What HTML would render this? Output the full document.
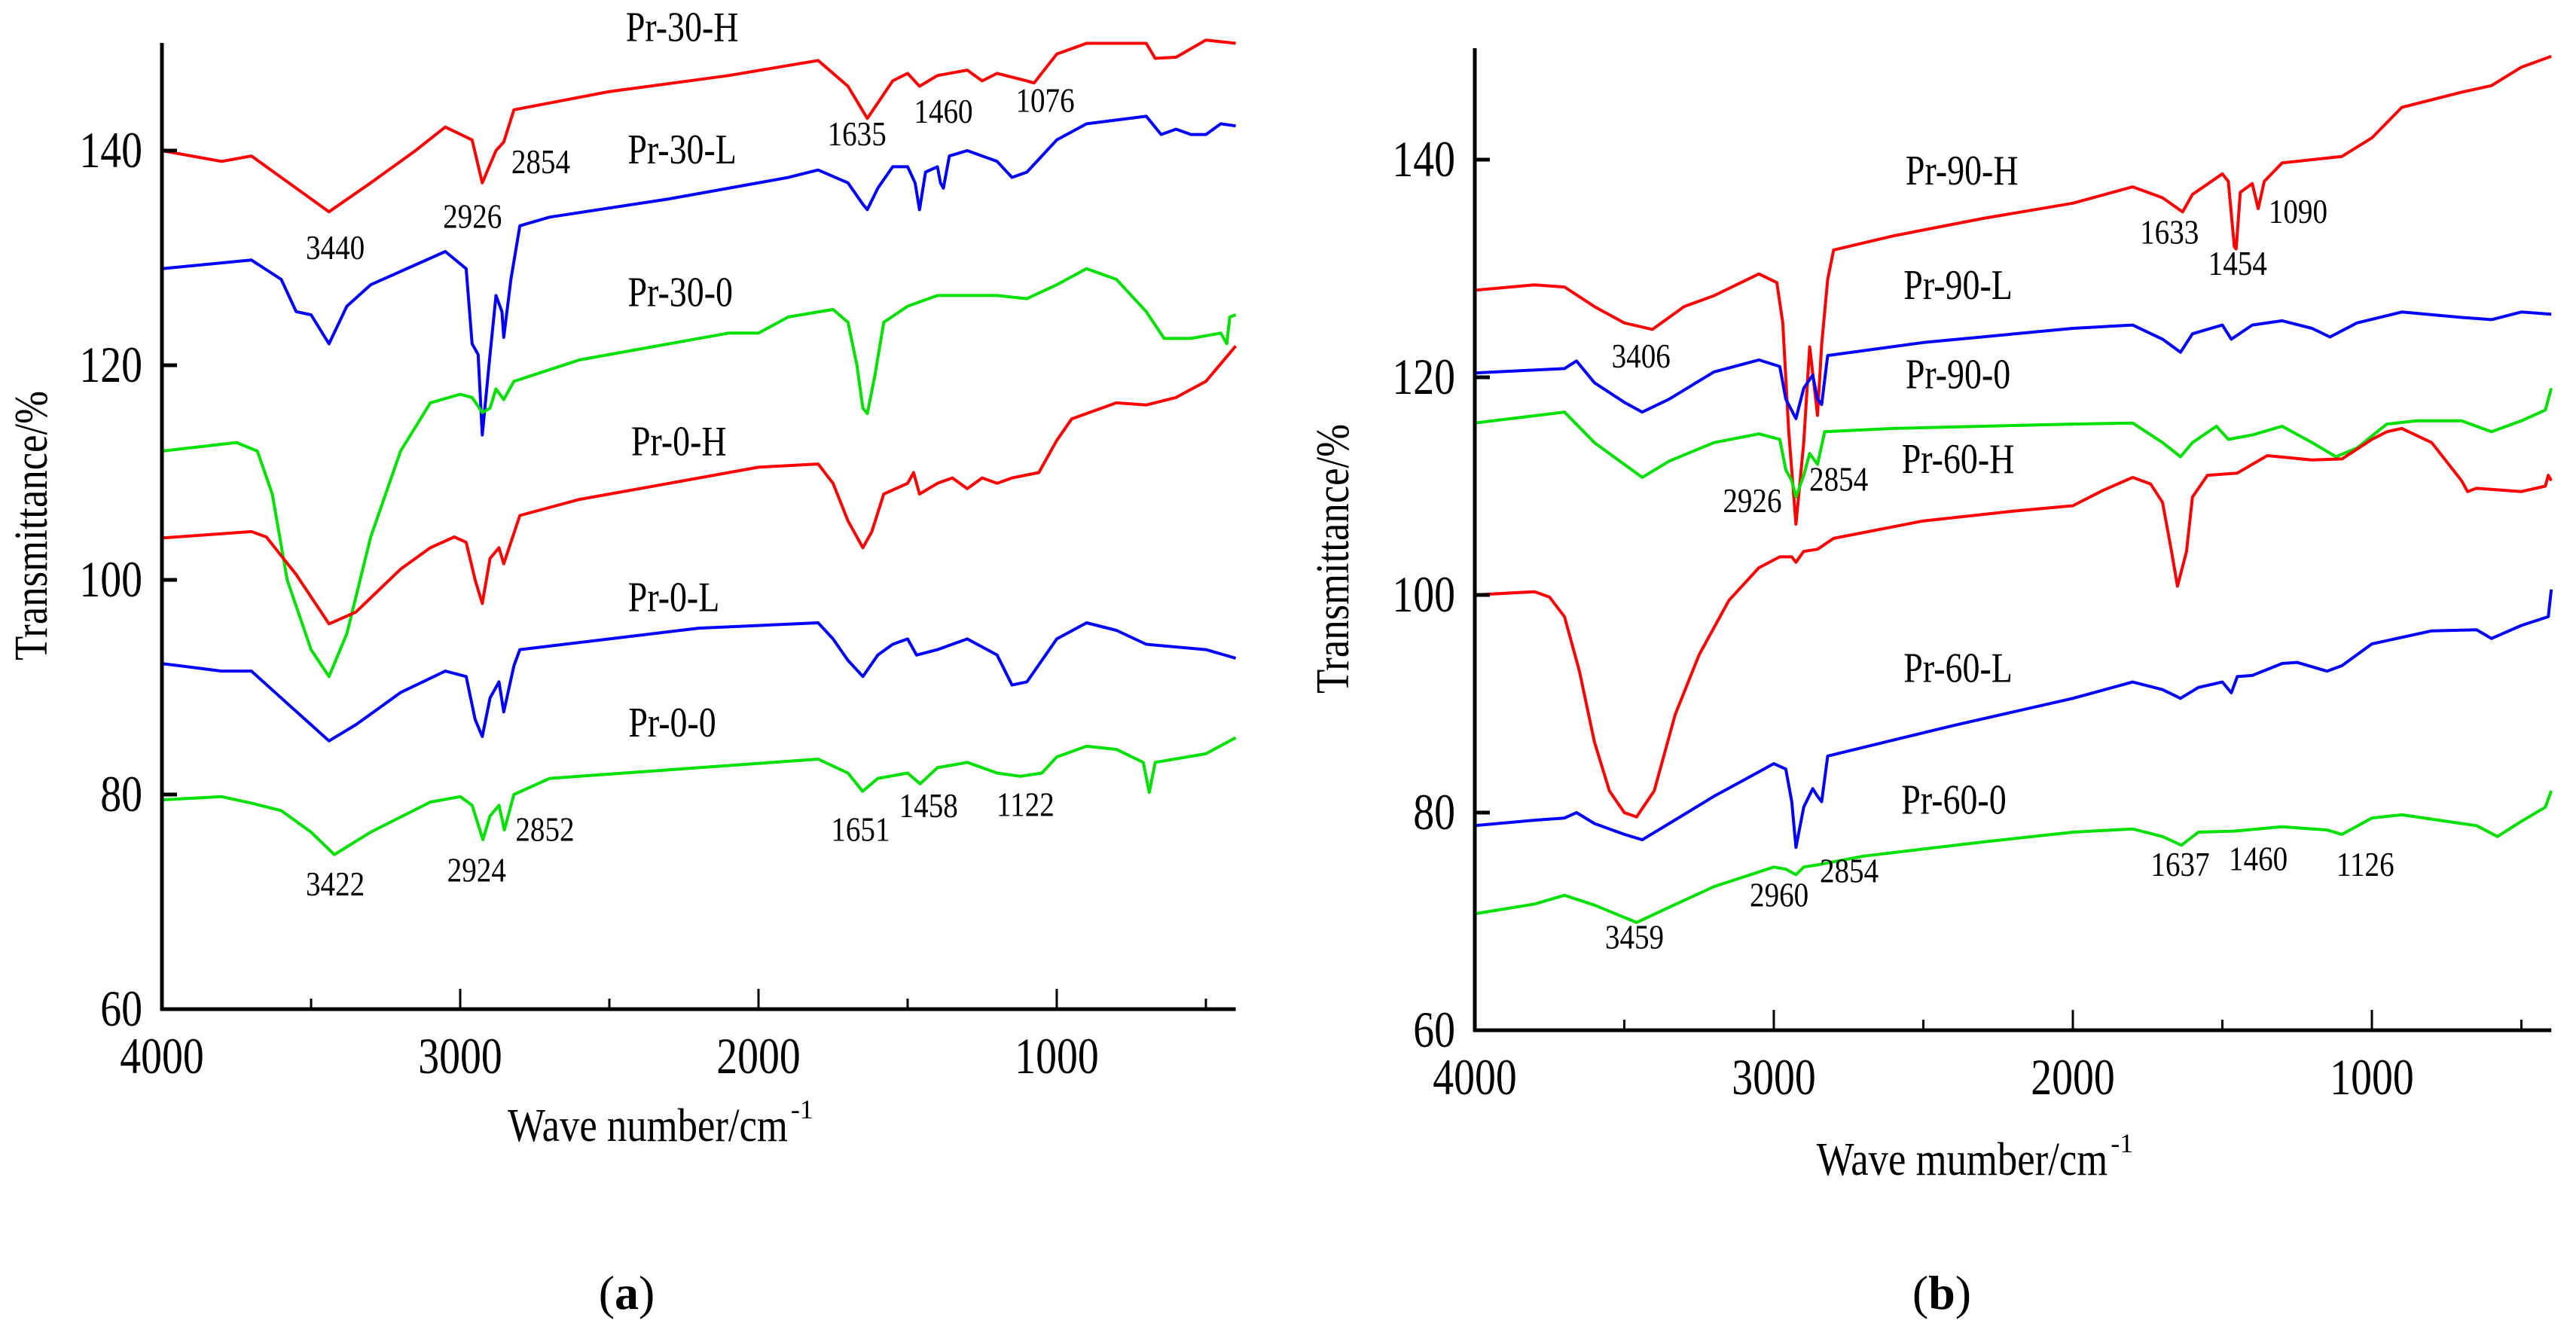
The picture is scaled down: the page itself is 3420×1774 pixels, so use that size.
<!DOCTYPE html>
<html><head><meta charset="utf-8">
<style>
html,body{margin:0;padding:0;background:#fff;}
svg{display:block;font-family:"Liberation Serif",serif;}
</style></head>
<body>
<svg id="fig" width="3420" height="1774" viewBox="0 0 3420 1774" xmlns="http://www.w3.org/2000/svg">
<rect x="0" y="0" width="3420" height="1774" fill="#fff"/>
<g id="panelA"></g>
<g id="panelB"></g>
</svg>
<script>
// ---------- Panel (a) data: [wavenumber, transmittance] ----------
const aPr30H_wn=[4000,3800,3700,3600,3440,3300,3150,3050,2960,2926,2880,2854,2820,2500,2100,1800,1700,1635,1550,1500,1460,1400,1300,1250,1200,1100,1076,1000,900,700,670,600,500,400];
const aPr30H_t=[140,139,139.5,137.5,134.3,137,140,142.2,141,137,140,140.8,143.8,145.5,147,148.4,146,143,146.5,147.2,146,147,147.5,146.5,147.2,146.5,146.3,149,150,150,148.6,148.7,150.3,150];
const aPr30L_wn=[4000,3700,3600,3550,3500,3440,3380,3300,3050,2980,2960,2940,2926,2900,2880,2860,2854,2830,2800,2700,2300,2100,1900,1800,1700,1650,1635,1600,1550,1500,1475,1460,1440,1400,1390,1380,1360,1300,1200,1150,1100,1000,900,700,650,600,550,500,450,400];
const aPr30L_t=[129,129.8,128,125,124.7,122,125.5,127.5,130.6,129,122,121,113.5,121,126.5,125,122.6,128,133,133.8,135.5,136.5,137.5,138.2,137,135,134.5,136.5,138.5,138.5,137,134.5,138,138.5,137,136.5,139.5,140,139,137.5,138,141,142.5,143.2,141.5,142,141.5,141.5,142.5,142.3];
const aPr300_wn=[4000,3750,3680,3630,3580,3500,3440,3380,3300,3200,3100,3000,2960,2926,2900,2880,2854,2820,2600,2300,2100,2000,1900,1750,1700,1670,1650,1635,1610,1580,1500,1400,1200,1100,1000,900,800,700,640,550,450,430,420,400];
const aPr300_t=[112,112.8,112,108,100,93.5,91,95,104,112,116.5,117.3,117,115.6,116,117.8,116.8,118.5,120.5,122,123,123,124.5,125.2,124,120,116,115.5,119,124,125.5,126.5,126.5,126.2,127.5,129,128,125,122.5,122.5,123,122,124.5,124.7];
const aPr0H_wn=[4000,3700,3650,3550,3440,3350,3200,3100,3020,2980,2950,2926,2900,2870,2854,2830,2800,2600,2300,2000,1800,1750,1700,1650,1620,1580,1500,1480,1460,1400,1350,1300,1250,1200,1150,1060,1000,950,800,700,600,500,400];
const aPr0H_t=[103.9,104.5,104,100.5,95.9,97,101,103,104,103.5,100,97.8,102,103,101.5,103.5,106,107.5,109,110.5,110.8,109,105.5,103,104.5,108,109,110,108,109,109.5,108.5,109.5,109,109.5,110,113,115,116.5,116.3,117,118.5,121.8];
const aPr0L_wn=[4000,3800,3700,3600,3500,3440,3350,3200,3050,2980,2950,2926,2900,2870,2854,2820,2800,2500,2200,1800,1750,1700,1650,1600,1550,1500,1470,1400,1300,1200,1150,1100,1000,900,800,700,500,400];
const aPr0L_t=[92.2,91.5,91.5,89,86.5,85,86.5,89.5,91.5,91,87,85.4,89,90.5,87.7,92,93.5,94.5,95.5,96,94.5,92.5,91,93,94,94.5,93,93.5,94.5,93,90.2,90.5,94.5,96,95.3,94,93.5,92.7];
const aPr00_wn=[4000,3800,3700,3600,3500,3422,3300,3100,3000,2960,2924,2900,2870,2852,2820,2700,2300,1800,1700,1651,1600,1500,1458,1400,1300,1200,1122,1050,1000,900,800,710,690,670,500,400];
const aPr00_t=[79.5,79.8,79.2,78.5,76.5,74.4,76.5,79.3,79.8,79,75.8,78,79,76.7,80,81.5,82.3,83.3,82,80.3,81.5,82,81,82.5,83,82,81.7,82,83.5,84.5,84.2,83,80.2,83,83.8,85.3];
const aLabelText=["Pr-30-H","Pr-30-L","Pr-30-0","Pr-0-H","Pr-0-L","Pr-0-0"];
const aLabelWn=[2256,2256,2262,2267,2284,2289];
const aLabelT=[150.2,138.8,125.5,111.6,97.1,85.4];
const aPeakText=["3440","2926","2854","1635","1460","1076","3422","2924","2852","1651","1458","1122"];
const aPeakWn=[3419,2959,2730,1670,1380,1039,3419,2945,2716,1658,1430,1105];
const aPeakT=[129.9,132.8,137.9,140.5,142.6,143.6,70.6,71.9,75.7,75.7,77.9,78.0];

// ---------- Panel (b) data ----------
const bPr90H_wn=[4000,3800,3700,3600,3500,3406,3300,3200,3050,2990,2970,2950,2926,2900,2880,2860,2854,2840,2820,2800,2600,2300,2000,1800,1700,1633,1600,1500,1480,1460,1454,1440,1400,1380,1360,1300,1200,1100,1000,900,800,700,600,500,400];
const bPr90H_t=[128,128.5,128.3,126.5,125,124.4,126.5,127.5,129.5,128.7,125,115,106.5,114,122.8,118,116.5,123,129,131.7,133,134.6,136,137.5,136.5,135.2,136.8,138.7,138,132,131.8,137,137.8,135.5,138,139.7,140,140.3,142,144.8,145.5,146.2,146.8,148.5,149.5];
const bPr90L_wn=[4000,3700,3660,3600,3500,3440,3350,3200,3050,2980,2960,2926,2900,2870,2854,2840,2820,2500,2000,1800,1700,1640,1600,1500,1470,1400,1300,1200,1140,1050,900,700,600,500,400];
const bPr90L_t=[120.4,120.8,121.5,119.5,117.7,116.8,118,120.5,121.6,121,118,116.2,119,120.2,118,117.5,122,123.2,124.5,124.8,123.5,122.3,124,124.8,123.5,124.8,125.2,124.5,123.7,125,126,125.5,125.3,126,125.8];
const bPr900_wn=[4000,3700,3600,3500,3440,3350,3200,3050,2980,2960,2940,2926,2900,2880,2854,2830,2600,2000,1800,1700,1640,1600,1520,1480,1400,1300,1200,1120,1050,950,850,700,600,500,420,400];
const bPr900_t=[115.8,116.8,114,112,110.8,112.3,114,114.8,114.3,111.5,110.5,109,111,113,112,115,115.3,115.7,115.8,114,112.7,114,115.5,114.3,114.7,115.5,114,112.7,113.5,115.7,116,116,115,116,117,119];
const bPr60H_wn=[4000,3800,3750,3700,3650,3600,3550,3500,3459,3400,3330,3250,3150,3050,2980,2940,2926,2900,2854,2800,2500,2200,2000,1900,1800,1740,1700,1670,1650,1620,1600,1550,1450,1350,1200,1100,1000,950,900,800,700,680,650,500,420,410,400];
const bPr60H_t=[100,100.3,99.8,98,93,86.5,82,80,79.6,82,89,94.5,99.5,102.5,103.5,103.5,103,104,104.2,105.2,106.8,107.7,108.2,109.6,110.8,110.2,108.5,104,100.8,104,109,111,111.2,112.8,112.4,112.5,114.3,115,115.3,114,110.5,109.5,109.8,109.5,110,111,110.5];
const bPr60L_wn=[4000,3800,3700,3660,3600,3500,3440,3350,3200,3100,3000,2960,2940,2926,2900,2870,2854,2840,2820,2700,2400,2000,1800,1700,1640,1580,1500,1470,1450,1400,1300,1250,1150,1100,1000,800,650,600,500,410,400];
const bPr60L_t=[78.8,79.3,79.5,80,79,78,77.5,79,81.5,83,84.5,84,81,76.8,80.5,82.2,81.5,81,85.2,86,88,90.5,92,91.3,90.5,91.5,92,91,92.5,92.6,93.7,93.8,93,93.5,95.5,96.7,96.8,96,97.2,98,100.5];
const bPr600_wn=[4000,3800,3700,3600,3459,3350,3200,3000,2960,2926,2900,2854,2700,2300,2000,1800,1700,1637,1580,1460,1300,1150,1100,1000,900,700,650,580,500,420,400];
const bPr600_t=[70.7,71.6,72.4,71.5,69.9,71.3,73.2,75,74.8,74.3,75,75.2,76,77.3,78.2,78.5,77.8,77,78.2,78.3,78.7,78.4,78,79.5,79.8,79,78.8,77.8,79.2,80.5,82];
const bLabelText=["Pr-90-H","Pr-90-L","Pr-90-0","Pr-60-H","Pr-60-L","Pr-60-0"];
const bLabelWn=[2371,2384,2384,2384,2384,2398];
const bLabelT=[137.7,127.2,119,111.2,92,79.9];
const bPeakText=["3406","2926","2854","1633","1454","1090","3459","2960","2854","1637","1460","1126"];
const bPeakWn=[3444,3072,2783,1677,1449,1247,3466,2982,2748,1641,1380,1022];
const bPeakT=[120.9,107.6,109.6,132.3,129.4,134.2,67.5,71.4,73.6,74.2,74.7,74.2];

const xTickVals=[4000,3000,2000,1000];
const yTickVals=[60,80,100,120,140];

const NS="http://www.w3.org/2000/svg";
function mk(parent,tag,attrs){const e=document.createElementNS(NS,tag);for(const k in attrs)e.setAttribute(k,attrs[k]);parent.appendChild(e);return e;}
function squash(t,f){const w=t.getComputedTextLength();t.setAttribute('textLength',(w*f).toFixed(1));t.setAttribute('lengthAdjust','spacingAndGlyphs');}

function drawPanel(g,cfg){
  const X=wn=>cfg.x0+(4000-wn)*cfg.kx;
  const Y=t=>cfg.y60-(t-60)*cfg.ky;
  const xEnd=X(400);
  // series
  cfg.series.forEach(s=>{
    const pts=s.wn.map((w,i)=>X(w).toFixed(1)+','+Y(s.t[i]).toFixed(1)).join(' ');
    const p=mk(g,'polyline',{points:pts,fill:'none',stroke:s.color,'stroke-width':4,'stroke-linejoin':'round'});
    
    
  });
  // axes
  const ya=mk(g,'line',{x1:cfg.x0,y1:cfg.yTop,x2:cfg.x0,y2:cfg.y60+2,stroke:'#000','stroke-width':5});
  
  
  const xa=mk(g,'line',{x1:cfg.x0-2,y1:cfg.y60,x2:xEnd,y2:cfg.y60,stroke:'#000','stroke-width':5});
  
  
  for(let w=3500;w>=500;w-=500){
    const maj=(w%1000===0);
    const tk=mk(g,'line',{x1:X(w),y1:cfg.y60,x2:X(w),y2:cfg.y60-(maj?27:14),stroke:'#000','stroke-width':3});
    
    
  }
  xTickVals.forEach(w=>{
    const t=mk(g,'text',{x:X(w),y:cfg.y60+85,'font-size':68,'text-anchor':'middle'});
    t.textContent=String(w);
    
    
    squash(t,0.82);
  });
  yTickVals.forEach(v=>{
    const tk=mk(g,'line',{x1:cfg.x0,y1:Y(v),x2:cfg.x0+20,y2:Y(v),stroke:'#000','stroke-width':5});
    
    
    const t=mk(g,'text',{x:cfg.x0-26,y:Y(v)+22,'font-size':68,'text-anchor':'end'});
    t.textContent=String(v);
    
    
    squash(t,0.82);
  });
  cfg.labelText.forEach((s,i)=>{
    const t=mk(g,'text',{x:X(cfg.labelWn[i]),y:Y(cfg.labelT[i]),'font-size':56,'text-anchor':'middle'});
    t.textContent=s;
    
    
    squash(t,0.82);
  });
  cfg.peakText.forEach((s,i)=>{
    const t=mk(g,'text',{x:X(cfg.peakWn[i]),y:Y(cfg.peakT[i]),'font-size':46,'text-anchor':'middle'});
    t.textContent=s;
    
    
    squash(t,0.85);
  });
  const yt=mk(g,'text',{x:0,y:0,'font-size':62,'text-anchor':'middle',transform:`translate(${cfg.ytx},${cfg.yty}) rotate(-90)`});
  yt.textContent='Transmittance/%';
  
  
  squash(yt,0.85);
  const xt=mk(g,'text',{x:cfg.xtx,y:cfg.xty,'font-size':62,'text-anchor':'middle'});
  xt.textContent=cfg.xTitle;
  
  
  squash(xt,0.85);
  const sup=mk(g,'text',{x:cfg.xtx+xt.getComputedTextLength()/2+4,y:cfg.xty-30,'font-size':36});
  sup.textContent='-1';
  
  
  const cap=mk(g,'text',{x:cfg.capx,y:1738,'font-size':64,'text-anchor':'middle'});
  cap.innerHTML='(<tspan font-weight="bold">'+cfg.cap+'</tspan>)';
  
  
}

drawPanel(document.getElementById('panelA'),{
  x0:215,kx:0.396,y60:1340,ky:14.25,yTop:57,
  ytx:62,yty:698,xtx:860,xty:1515,xTitle:'Wave number/cm',capx:832,cap:'a',
  labelText:aLabelText,labelWn:aLabelWn,labelT:aLabelT,peakText:aPeakText,peakWn:aPeakWn,peakT:aPeakT,
  series:[
    {name:'pr-30-h-line',color:'#ff0000',wn:aPr30H_wn,t:aPr30H_t},
    {name:'pr-30-l-line',color:'#0000ff',wn:aPr30L_wn,t:aPr30L_t},
    {name:'pr-30-0-line',color:'#00e000',wn:aPr300_wn,t:aPr300_t},
    {name:'pr-0-h-line',color:'#ff0000',wn:aPr0H_wn,t:aPr0H_t},
    {name:'pr-0-l-line',color:'#0000ff',wn:aPr0L_wn,t:aPr0L_t},
    {name:'pr-0-0-line',color:'#00e000',wn:aPr00_wn,t:aPr00_t}
  ]
});
drawPanel(document.getElementById('panelB'),{
  x0:1958,kx:0.397,y60:1368,ky:14.45,yTop:64,
  ytx:1790,yty:742,xtx:2605,xty:1560,xTitle:'Wave mumber/cm',capx:2578,cap:'b',
  labelText:bLabelText,labelWn:bLabelWn,labelT:bLabelT,peakText:bPeakText,peakWn:bPeakWn,peakT:bPeakT,
  series:[
    {name:'pr-90-h-line',color:'#ff0000',wn:bPr90H_wn,t:bPr90H_t},
    {name:'pr-90-l-line',color:'#0000ff',wn:bPr90L_wn,t:bPr90L_t},
    {name:'pr-90-0-line',color:'#00e000',wn:bPr900_wn,t:bPr900_t},
    {name:'pr-60-h-line',color:'#ff0000',wn:bPr60H_wn,t:bPr60H_t},
    {name:'pr-60-l-line',color:'#0000ff',wn:bPr60L_wn,t:bPr60L_t},
    {name:'pr-60-0-line',color:'#00e000',wn:bPr600_wn,t:bPr600_t}
  ]
});
</script>
</body></html>
